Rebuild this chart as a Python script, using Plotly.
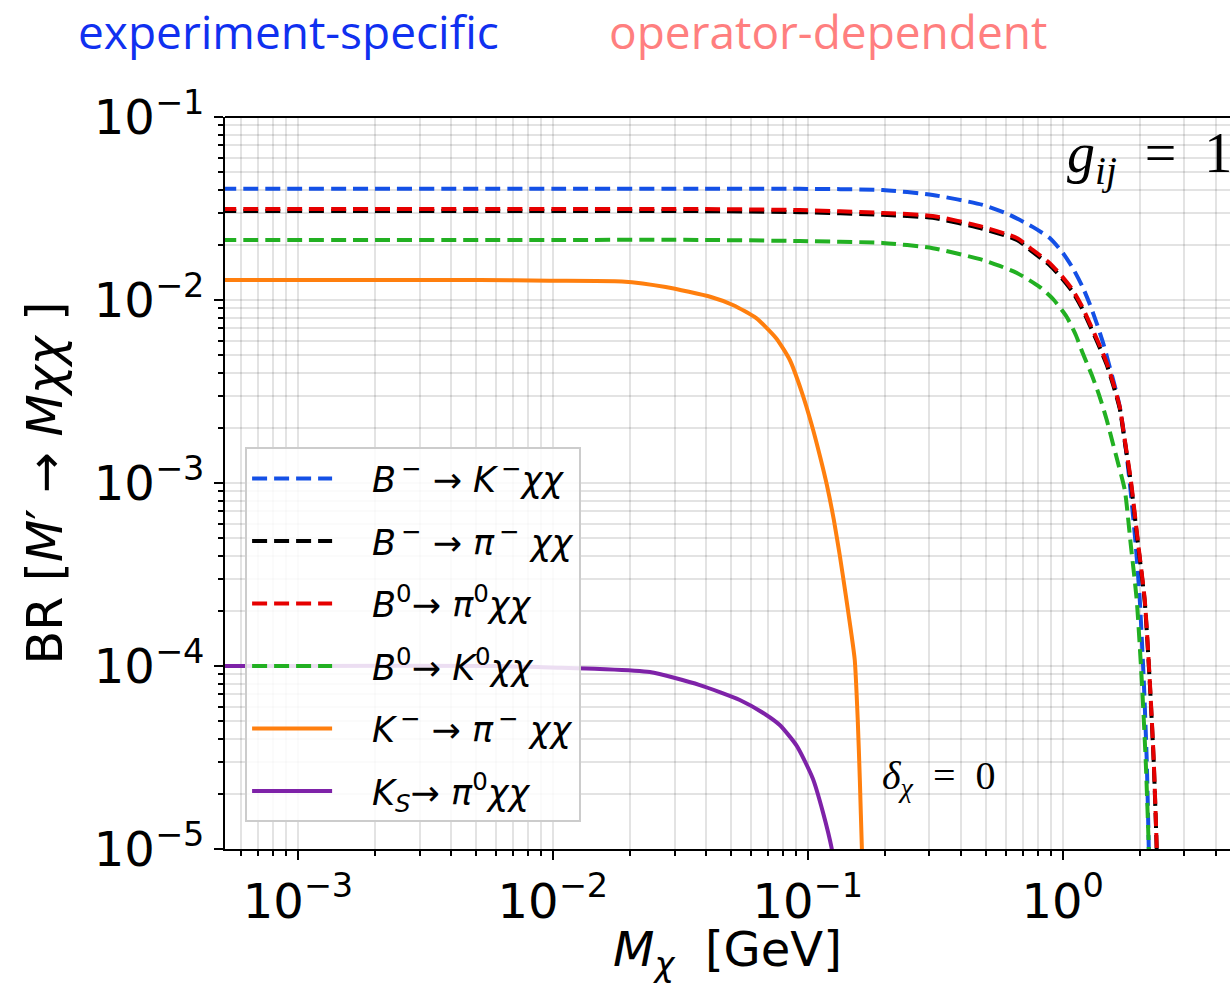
import plotly.graph_objects as go

# ---------------- data ----------------
x_BK = [5e-4, 1e-3, 1e-2, 0.0377, 0.0931, 0.1968, 0.309, 0.485, 0.608, 0.762, 0.889, 1.0, 1.094, 1.197,
        1.276, 1.358, 1.448, 1.528, 1.600, 1.674, 1.751, 1.832, 1.933, 2.005, 2.078, 2.135, 2.175, 2.194]
y_BK = [0.0406, 0.0406, 0.0406, 0.0406, 0.0405, 0.0399, 0.0375, 0.0331, 0.0295, 0.0251, 0.0218, 0.0181,
        0.01496, 0.01177, 0.00951, 0.00748, 0.00568, 0.00430, 0.00339, 0.00260, 0.00172, 0.00100,
        4.58e-4, 2.30e-4, 8.38e-5, 3.06e-5, 1.0e-5, 5.26e-6]

x_Bpi = [5e-4, 1e-3, 1e-2, 0.0377, 0.0931, 0.1968, 0.309, 0.485, 0.661, 0.762, 0.889, 0.991, 1.094, 1.188,
         1.276, 1.383, 1.488, 1.585, 1.674, 1.751, 1.849, 1.968, 2.097, 2.194, 2.274, 2.337, 2.358]
y_Bpi_minus = [0.0306, 0.0306, 0.0306, 0.0306, 0.0302, 0.0292, 0.0281, 0.0245, 0.0213, 0.0183, 0.0155,
               0.01318, 0.01107, 0.00904, 0.00729, 0.00567, 0.00442, 0.00335, 0.00254, 0.00168, 0.00101,
               4.77e-4, 2.24e-4, 8.17e-5, 2.98e-5, 9.75e-6, 5.13e-6]
y_Bpi_zero = [0.0314, 0.0314, 0.0314, 0.0314, 0.0310, 0.0299, 0.0288, 0.0251, 0.0218, 0.0188, 0.0159,
              0.01352, 0.01135, 0.00927, 0.00748, 0.00582, 0.00453, 0.00344, 0.00260, 0.00172, 0.00104,
              4.89e-4, 2.30e-4, 8.38e-5, 3.06e-5, 1.0e-5, 5.26e-6]

x_BK0 = [5e-4, 1e-3, 1e-2, 0.0377, 0.0931, 0.1968, 0.309, 0.485, 0.566, 0.661, 0.813, 0.923, 1.037, 1.125,
         1.197, 1.300, 1.397, 1.488, 1.570, 1.659, 1.751, 1.849, 1.950, 2.041, 2.115, 2.175, 2.194]
y_BK0 = [0.0213, 0.0213, 0.0213, 0.0213, 0.0210, 0.0205, 0.0192, 0.01655, 0.01535, 0.01406, 0.01177,
         0.0100, 0.00807, 0.00644, 0.00513, 0.00389, 0.00295, 0.00221, 0.00166, 0.00124, 9.16e-4,
         4.58e-4, 2.30e-4, 8.38e-5, 3.06e-5, 1.0e-5, 5.26e-6]

x_Kpi = [5e-4, 1e-3, 0.00518, 0.00973, 0.01866, 0.0277, 0.0417, 0.0508, 0.0626, 0.0750, 0.0850, 0.0947,
         0.1037, 0.1115, 0.1188, 0.1265, 0.1334, 0.1409, 0.1475, 0.1528, 0.157, 0.160, 0.163, 0.166]
y_Kpi = [0.01285, 0.01285, 0.01285, 0.01275, 0.01262, 0.01177, 0.01038, 0.00939, 0.00798, 0.00620,
         0.00470, 0.00314, 0.00207, 0.00141, 9.75e-4, 6.28e-4, 4.04e-4, 2.44e-4, 1.57e-4, 1.08e-4,
         5.07e-5, 2.38e-5, 1.0e-5, 5.26e-6]

x_KSpi = [5e-4, 1e-3, 0.00619, 0.00973, 0.01528, 0.0240, 0.0377, 0.0541, 0.0678, 0.0776, 0.0905, 0.1047,
          0.1146, 0.1242, 0.1277]
y_KSpi = [1.0e-4, 1.0e-4, 1.0e-4, 9.82e-5, 9.64e-5, 9.27e-5, 7.87e-5, 6.52e-5, 5.47e-5, 4.76e-5, 3.66e-5,
          2.42e-5, 1.59e-5, 1.0e-5, 7.67e-6]

names = [
    "\u2003<i>B</i><sup>\u2009\u2212</sup> \u2192 <i>K</i><sup>\u2009\u2212</sup><i>\u03c7\u03c7</i>",
    "\u2003<i>B</i><sup>\u2009\u2212</sup> \u2192 <i>\u03c0</i><sup>\u2009\u2212</sup> <i>\u03c7\u03c7</i>",
    "\u2003<i>B</i><sup>0</sup>\u2192 <i>\u03c0</i><sup>0</sup><i>\u03c7\u03c7</i>",
    "\u2003<i>B</i><sup>0</sup>\u2192 <i>K</i><sup>0</sup><i>\u03c7\u03c7</i>",
    "\u2003<i>K</i><sup>\u2009\u2212</sup> \u2192 <i>\u03c0</i><sup>\u2009\u2212</sup> <i>\u03c7\u03c7</i>",
    "\u2003<i>K<sub>S</sub></i>\u2192 <i>\u03c0</i><sup>0</sup><i>\u03c7\u03c7</i>",
]

x_tickvals = [1e-3, 1e-2, 1e-1, 1]
x_ticktext = ["10<sup>\u22123</sup>", "10<sup>\u22122</sup>", "10<sup>\u22121</sup>", "10<sup>0</sup>"]
y_tickvals = [1e-5, 1e-4, 1e-3, 1e-2, 1e-1]
y_ticktext = ["10<sup>\u22125</sup>", "10<sup>\u22124</sup>", "10<sup>\u22123</sup>", "10<sup>\u22122</sup>", "10<sup>\u22121</sup>"]

x_minor = [k * 10.0 ** d for d in range(-4, 1) for k in range(2, 10)]
y_minor = [k * 10.0 ** d for d in range(-5, -1) for k in range(2, 10)]

series = [
    (x_BK, y_BK, "#1450e6", "15px,7px"),
    (x_Bpi, y_Bpi_minus, "#000000", "15px,7px"),
    (x_Bpi, y_Bpi_zero, "#e60000", "15px,7px"),
    (x_BK0, y_BK0, "#22b022", "15px,7px"),
    (x_Kpi, y_Kpi, "#ff7f0e", "solid"),
    (x_KSpi, y_KSpi, "#7e22a8", "solid"),
]

fig = go.Figure()
for i, ((xs, ys, col, dash), nm) in enumerate(zip(series, names)):
    fig.add_trace(go.Scatter(
        x=xs, y=ys, mode="lines", name=nm, legendgroup=f"g{i}",
        line=dict(color=col, width=4, dash=dash, shape="spline", smoothing=0.6),
    ))

grid_col = "rgba(0,0,0,0.11)"
font_main = "DejaVu Sans"

common_axis = dict(
    type="log", showline=True, linecolor="black", linewidth=2, mirror=False,
    ticks="outside", ticklen=9, tickwidth=2, tickcolor="black",
    tickmode="array",
    tickfont=dict(size=48, family=font_main),
    showgrid=True, gridcolor=grid_col, gridwidth=1.5, zeroline=False,
)

fig.update_layout(
    width=1230, height=984,
    margin=dict(l=225, r=0, t=117, b=135),
    paper_bgcolor="white", plot_bgcolor="white",
    font=dict(family=font_main, color="black"),
    showlegend=True,
    legend=dict(
        x=0.02, y=0.549, xanchor="left", yanchor="top",
        bgcolor="rgba(255,255,255,0.85)", bordercolor="#cccccc", borderwidth=2,
        font=dict(size=35, family=font_main),
        tracegroupgap=14, traceorder="grouped",
        itemwidth=80,
    ),
    xaxis=dict(
        common_axis, range=[-3.286, 0.656],
        tickvals=x_tickvals, ticktext=x_ticktext,
        minor=dict(tickmode="array", tickvals=x_minor, ticks="outside", ticklen=5, tickwidth=1.5,
                   tickcolor="black", showgrid=True, gridcolor=grid_col, gridwidth=1.5),
        title=dict(text="<i>M<sub>\u03c7</sub></i>  [GeV]", font=dict(size=48, family=font_main), standoff=20),
    ),
    yaxis=dict(
        common_axis, range=[-5, -1],
        tickvals=y_tickvals, ticktext=y_ticktext,
        minor=dict(tickmode="array", tickvals=y_minor, ticks="outside", ticklen=5, tickwidth=1.5,
                   tickcolor="black", showgrid=True, gridcolor=grid_col, gridwidth=1.5),
        title=dict(text="BR [<i>M</i>\u2032 \u2192 <i>M\u03c7\u03c7</i> ]", font=dict(size=49, family=font_main), standoff=16),
    ),
)

# top frame line (right side lies beyond the visible canvas)
fig.add_shape(type="line", xref="paper", yref="paper", x0=0, x1=1, y0=1, y1=1,
              line=dict(color="black", width=2))

serif = "Liberation Serif"
fig.add_annotation(xref="paper", yref="paper", x=-0.148, y=1.117, xanchor="left", yanchor="middle",
                   text="experiment-specific", showarrow=False,
                   font=dict(size=46, family="Open Sans", color="#1030f0"))
fig.add_annotation(xref="paper", yref="paper", x=0.380, y=1.117, xanchor="left", yanchor="middle",
                   text="operator-dependent", showarrow=False,
                   font=dict(size=46, family="Open Sans", color="#ff7f7f"))
fig.add_annotation(xref="paper", yref="paper", x=0.836, y=0.945, xanchor="left", yanchor="middle",
                   text="<i>g</i><sub><i>ij</i></sub>  =  1", showarrow=False,
                   font=dict(size=56, family=serif, color="black"))
fig.add_annotation(xref="paper", yref="paper", x=0.652, y=0.097, xanchor="left", yanchor="middle",
                   text="<i>\u03b4<sub>\u03c7</sub></i>  =  0", showarrow=False,
                   font=dict(size=40, family=serif, color="black"))

fig.write_html("out.html")
